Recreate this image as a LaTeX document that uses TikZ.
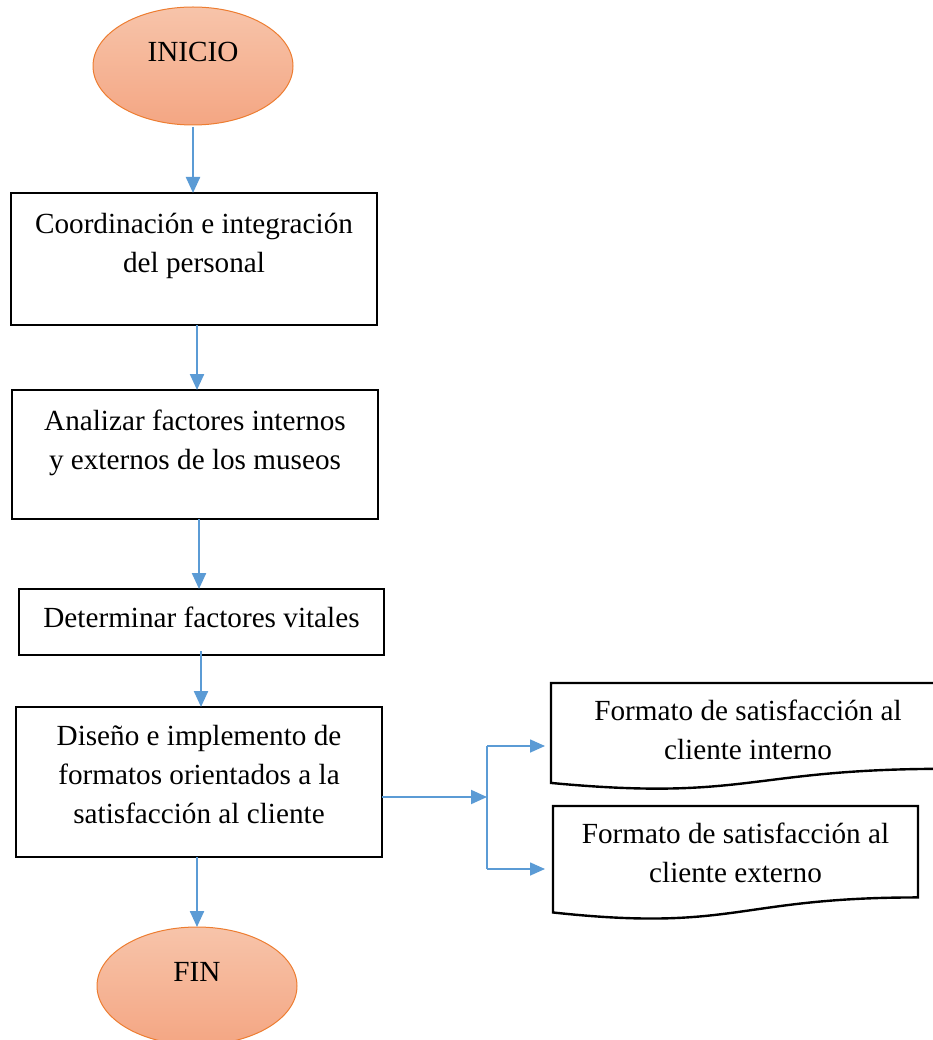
\documentclass[tikz,border=0pt]{standalone}
\usepackage{fontspec}
\setmainfont{Liberation Serif}
\usetikzlibrary{arrows.meta,calc,shapes.geometric}
\definecolor{flowblue}{RGB}{91,155,213}
\definecolor{termedge}{RGB}{237,125,49}
\definecolor{termtop}{RGB}{247,196,170}
\definecolor{termbot}{RGB}{244,166,131}

% outline of a flowchart "document" symbol laid over a named node;
% #1 = node name, #2 = node height
\newcommand\docoutline[2]{%
  \draw[docline] (#1.north west) -- (#1.north east)
    -- ($(#1.north east)+(0,0.802*#2)$)
    .. controls ($(#1.north)+(0,0.802*#2)$) and ($(#1.north)+(0,1.107*#2)$)
    .. ($(#1.north west)+(0,0.934*#2)$) -- cycle;}

\begin{document}
\begin{tikzpicture}[x=1pt,y=-1pt,
  every node/.style={inner sep=0pt,outer sep=0pt},
  txt/.style={font=\fontsize{29.2}{39}\selectfont,align=center},
  firstline/.style={txt,anchor=north,execute at begin node={\rule{0pt}{20pt}}},
  term/.style={ellipse,draw=termedge,line width=1pt,top color=termtop,bottom color=termbot,
    minimum width=200pt,minimum height=118pt},
  stepbox/.style={rectangle,draw=black,line width=2.7pt,minimum width=366pt},
  docnode/.style={rectangle},
  docline/.style={draw=black,line width=2.4pt,line join=miter},
  arr/.style={draw=flowblue,line width=2.3pt,-{Triangle[length=16pt,width=14pt]}},
  thinarr/.style={draw=flowblue,line width=1.6pt,-{Triangle[length=15pt,width=13pt]}},
  bracket/.style={draw=flowblue,line width=1.3pt}]

\useasboundingbox (0,0) rectangle (933,1040);

% terminals
\node[term] (ini) at (193,66) {};
\node[txt,anchor=base] (iniT) at ($(ini.center)+(0,-4)$) {INICIO};
\node[term] (fin) at (197,986) {};
\node[txt,anchor=base] (finT) at ($(fin.center)+(0,-5)$) {FIN};

% process steps
\node[stepbox,minimum height=132pt] (b1) at (194,259) {};
\node[firstline] (b1T) at ($(b1.north)+(0,20)$) {Coordinación e integración\\del personal};

\node[stepbox,minimum height=129pt] (b2) at (195,454.5) {};
\node[firstline] (b2T) at ($(b2.north)+(0,20)$) {Analizar factores internos\\y externos de los museos};

\node[stepbox,minimum width=365pt,minimum height=66pt] (b3) at (201.5,622) {};
\node[firstline] (b3T) at ($(b3.north)+(0,18)$) {Determinar factores vitales};

\node[stepbox,minimum height=150pt] (b4) at (199,782) {};
\node[firstline] (b4T) at ($(b4.north)+(0,18)$) {Diseño e implemento de\\formatos orientados a la\\satisfacción al cliente};

% output documents
\node[docnode,minimum width=394pt,minimum height=107pt] (d1) at (748,736.5) {};
\docoutline{d1}{107}
\node[firstline] (d1T) at ($(d1.north)+(0,17)$) {Formato de satisfacción al\\cliente interno};

\node[docnode,minimum width=365pt,minimum height=114pt] (d2) at (735.5,863) {};
\docoutline{d2}{114}
\node[firstline] (d2T) at ($(d2.north)+(0,17)$) {Formato de satisfacción al\\cliente externo};

% main flow
\coordinate (s1) at (ini.south);
\draw[arr] ($(ini.south)+(0,2)$) -- (b1.north -| s1);
\path (b1.south) ++(3,0) coordinate (s2);
\draw[arr] (s2) -- (s2 |- b2.north);
\path (b2.south) ++(4,0) coordinate (s3);
\draw[arr] (s3) -- (s3 |- b3.north);
\path (b3.south) ++(-0.5,-4) coordinate (s4);
\draw[arr] (s4) -- (s4 |- b4.north);
\path (b4.south) ++(-2,0) coordinate (s5);
\draw[arr] (s5) -- (s5 |- fin.north);

% branch to the two documents
\coordinate (split) at (487,797);
\coordinate (brtop) at (487,746);
\coordinate (brbot) at (487,869);
\coordinate (tip1) at (545,746);
\coordinate (tip2) at (545,869);
\draw[arr,line width=2pt] (b4.east |- split) -- (split);
\draw[bracket] (brtop) -- (brbot);
\draw[thinarr] (brtop) -- (tip1);
\draw[thinarr] (brbot) -- (tip2);
\end{tikzpicture}
\end{document}
